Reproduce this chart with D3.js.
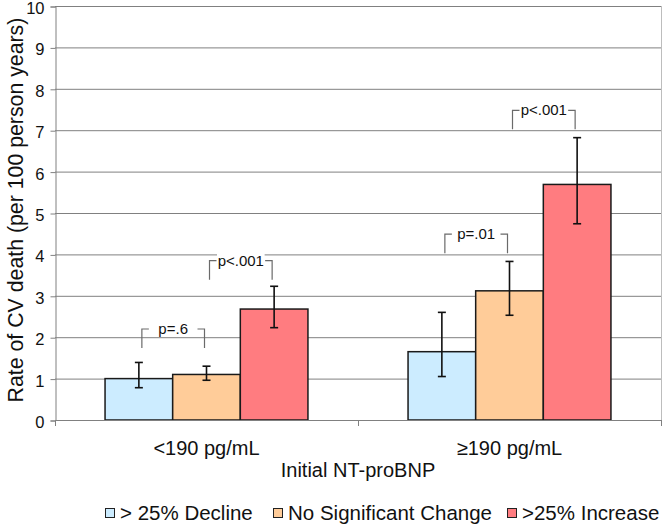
<!DOCTYPE html>
<html>
<head>
<meta charset="utf-8">
<script src="https://cdn.jsdelivr.net/npm/d3@7"></script>
<style>
  html, body { margin: 0; padding: 0; background: #fff; }
  svg { display: block; font-family: "Liberation Sans", Arial, sans-serif; }
</style>
</head>
<body>
<svg id="chart" width="671" height="525"></svg>
<script>
// ---- data ----
const categories = ["<190 pg/mL", "\u2265190 pg/mL"];
const seriesNames = ["> 25% Decline", "No Significant Change", ">25% Increase"];
const seriesColors = ["#CCECFF", "#FFCC99", "#FF7C80"];
const valuesDecline = [1.0, 1.65];
const valuesNoChange = [1.1, 3.12];
const valuesIncrease = [2.68, 5.69];
const lowDecline = [0.78, 1.05];
const highDecline = [1.39, 2.6];
const lowNoChange = [0.96, 2.53];
const highNoChange = [1.3, 3.83];
const lowIncrease = [2.23, 4.74];
const highIncrease = [3.23, 6.82];
const yTicks = [0, 1, 2, 3, 4, 5, 6, 7, 8, 9, 10];
// brackets: group index, from series, to series, top value, label
const bracketGroup = [0, 0, 1, 1];
const bracketFrom = [0, 1, 0, 1];
const bracketTo = [1, 2, 1, 2];
const bracketTop = [2.21, 3.86, 4.5, 7.49];
const bracketLabel = ["p=.6", "p<.001", "p=.01", "p<.001"];
const yTitle = "Rate of CV death (per 100 person years)";
const xTitle = "Initial NT-proBNP";

const seriesValues = [valuesDecline, valuesNoChange, valuesIncrease];
const seriesLow = [lowDecline, lowNoChange, lowIncrease];
const seriesHigh = [highDecline, highNoChange, highIncrease];

// ---- layout ----
const svg = d3.select("#chart");
const pLeft = 55, pRight = 661, pTop = 6, pBottom = 420;
const legendX = [105, 273, 507];

const y = d3.scaleLinear().domain([0, 10]).range([pBottom, pTop]);
const x0 = d3.scaleBand().domain(categories).range([pLeft, pRight]).padding(0);
const x1 = d3.scaleBand().domain(d3.range(3)).range([0, x0.bandwidth()]).paddingInner(0).paddingOuter(0.74);

// gridlines
svg.append("g").selectAll("line").data(yTicks.filter(d => d > 0)).join("line")
  .attr("x1", pLeft).attr("x2", pRight)
  .attr("y1", d => y(d) + 0.5).attr("y2", d => y(d) + 0.5)
  .attr("stroke", "#808080").attr("stroke-width", 1);

// right border
svg.append("line").attr("x1", pRight + 0.5).attr("x2", pRight + 0.5)
  .attr("y1", y(10)).attr("y2", pBottom)
  .attr("stroke", "#bdbdbd").attr("stroke-width", 1);

// y axis
const yAxis = d3.axisLeft(y).tickValues(yTicks).tickSize(5).tickPadding(6).tickFormat(d3.format("d"));
const gy = svg.append("g").attr("transform", `translate(${pLeft + 0.5},0.5)`).call(yAxis);
gy.select(".domain").attr("stroke", "#808080");
gy.selectAll(".tick line").attr("stroke", "#808080");
gy.selectAll(".tick text").attr("font-size", "16.5px").attr("fill", "#111")
  .attr("dy", "0.42em")
  .attr("font-family", "'Liberation Sans', Arial, sans-serif");

// bars
const groups = svg.append("g").selectAll("g").data(categories).join("g")
  .attr("transform", d => `translate(${x0(d)},0)`);

groups.each(function(cat, gi) {
  const g = d3.select(this);
  for (let s = 0; s < 3; s++) {
    const v = seriesValues[s][gi];
    g.append("rect")
      .attr("x", x1(s)).attr("width", x1.bandwidth())
      .attr("y", y(v)).attr("height", y(0) - y(v))
      .attr("fill", seriesColors[s]).attr("stroke", "#1a1a1a").attr("stroke-width", 1.5);
  }
});

// x axis
const xAxisG = svg.append("g");
xAxisG.append("line").attr("x1", pLeft).attr("x2", pRight + 1)
  .attr("y1", pBottom + 0.5).attr("y2", pBottom + 0.5).attr("stroke", "#808080");
xAxisG.selectAll(".xt").data([pLeft, x0(categories[1]), pRight]).join("line")
  .attr("class", "xt")
  .attr("x1", d => d + 0.5).attr("x2", d => d + 0.5)
  .attr("y1", pBottom).attr("y2", pBottom + 6).attr("stroke", "#808080");
xAxisG.selectAll(".xl").data(categories).join("text")
  .attr("class", "xl")
  .attr("x", d => x0(d) + x0.bandwidth() / 2).attr("y", 455)
  .attr("text-anchor", "middle").attr("font-size", "20px").attr("fill", "#111")
  .text(d => d);

// error bars
groups.each(function(cat, gi) {
  const g = d3.select(this);
  for (let s = 0; s < 3; s++) {
    const cx = x1(s) + x1.bandwidth() / 2;
    const lo = seriesLow[s][gi], hi = seriesHigh[s][gi];
    g.append("line").attr("x1", cx).attr("x2", cx).attr("y1", y(lo)).attr("y2", y(hi))
      .attr("stroke", "#111").attr("stroke-width", 1.6);
    [lo, hi].forEach(v => {
      g.append("line").attr("x1", cx - 4).attr("x2", cx + 4).attr("y1", y(v)).attr("y2", y(v))
        .attr("stroke", "#111").attr("stroke-width", 1.6);
    });
  }
});

// brackets
const bh = 0.47;
const bracketLayer = svg.append("g");
bracketLabel.forEach((lab, i) => {
  const gx = x0(categories[bracketGroup[i]]);
  const xl = gx + x1(bracketFrom[i]) + x1.bandwidth() / 2 + 3;
  const xr = gx + x1(bracketTo[i]) + x1.bandwidth() / 2 - 2;
  const yt = y(bracketTop[i]) + 0.5;
  const yb = y(bracketTop[i] - bh);
  const col = "#6a6a6a";
  const seg = 7;
  const bg = bracketLayer.append("rect").attr("fill", "#fff");
  bracketLayer.append("path")
    .attr("d", `M${xl},${yb}V${yt}H${xl + seg}M${xr - seg},${yt}H${xr}V${yb}`)
    .attr("fill", "none").attr("stroke", col).attr("stroke-width", 1.2);
  const t = bracketLayer.append("text")
    .attr("x", (xl + xr) / 2).attr("y", yt + 5)
    .attr("text-anchor", "middle").attr("font-size", "15px").attr("fill", "#111")
    .text(lab);
  const bb = t.node().getBBox();
  bg.attr("x", xl + seg + 0.5).attr("width", Math.max(0, (xr - seg) - (xl + seg) - 1))
    .attr("y", bb.y + 1).attr("height", bb.height - 2);
});

// axis titles
svg.append("text").attr("x", (pLeft + pRight) / 2).attr("y", 477)
  .attr("text-anchor", "middle").attr("font-size", "20px").attr("fill", "#111")
  .text(xTitle);
svg.append("text")
  .attr("transform", `translate(23,${(pTop + pBottom) / 2 - 3}) rotate(-90)`)
  .attr("text-anchor", "middle").attr("font-size", "21.3px").attr("fill", "#111")
  .text(yTitle);

// legend
const legend = svg.append("g");
seriesNames.forEach((name, i) => {
  const lx = legendX[i];
  legend.append("rect").attr("x", lx + 0.5).attr("y", 508.5).attr("width", 9).attr("height", 9)
    .attr("fill", seriesColors[i]).attr("stroke", "#222").attr("stroke-width", 1);
  legend.append("text").attr("x", lx + 15).attr("y", 520)
    .attr("font-size", "20.5px").attr("fill", "#111").text(name);
});
</script>
</body>
</html>
